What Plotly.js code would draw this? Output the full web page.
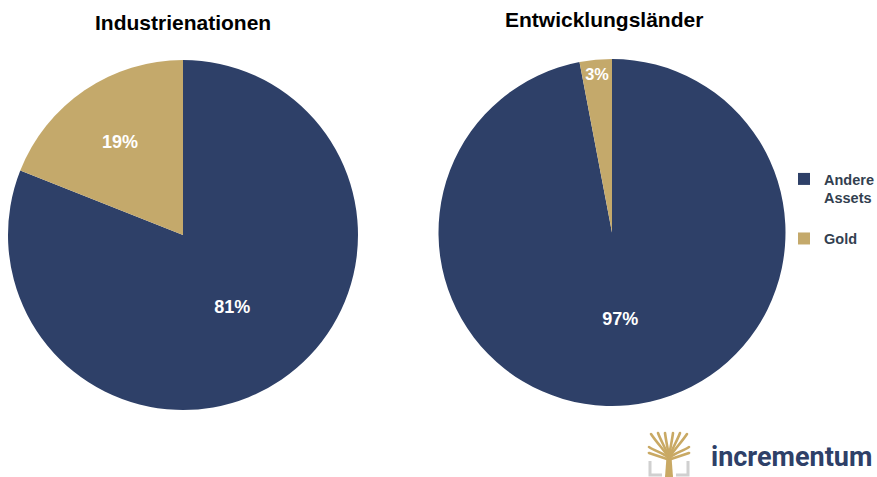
<!DOCTYPE html>
<html>
<head>
<meta charset="utf-8">
<script src="https://cdn.plot.ly/plotly-3.0.1.min.js"></script>
<style>html,body{margin:0;padding:0;background:#fff;}#chart{width:877px;height:477px;}</style>
</head>
<body>
<div id="chart"></div>
<script>
const categories = ["Andere<br>Assets<br> ", "Gold"];
const industrieValues = [81, 19];
const entwicklungValues = [97, 3];
const titles = ["Industrienationen", "Entwicklungsländer"];
const colors = ["#2E4068", "#C4A96B"];

const treeSvg = '<svg xmlns="http://www.w3.org/2000/svg" width="44" height="46" viewBox="0 0 44 46">' +
  '<path d="M3 30 V44 H15 M41 30 V44 H29" fill="none" stroke="#d0d0d0" stroke-width="3"/>' +
  '<path d="M18 46 L19.5 26 L24.5 26 L26 46 Z" fill="#C9A964"/>' +
  '<g fill="none" stroke="#C9A964" stroke-width="2.6" stroke-linecap="round">' +
  '<path d="M22 27 C16 22 8 20 2 16"/><path d="M22 27 C18 20 10 12 4 3"/>' +
  '<path d="M22 27 C19 18 14 10 11 2"/><path d="M22 27 C21 18 19 10 18 2"/>' +
  '<path d="M22 27 C23 18 25 10 26 2"/><path d="M22 27 C25 18 30 10 33 2"/>' +
  '<path d="M22 27 C26 20 34 12 40 3"/><path d="M22 27 C28 22 36 20 42 16"/>' +
  '<path d="M2 22 C8 24 14 26 20 28"/><path d="M42 22 C36 24 30 26 24 28"/>' +
  '</g></svg>';

const W = 877, H = 477;
function px(x){return x/W;}
function py(y){return 1 - y/H;}

const pieText = {family:"Arial, Liberation Sans", size:18, color:"#ffffff", weight:"bold"};

const data = [
  {type:"pie", labels:categories, values:industrieValues, sort:false, direction:"clockwise", rotation:0,
   marker:{colors:colors, line:{width:0}}, texttemplate:"%{value}%",
   textposition:"inside", insidetextorientation:"horizontal", textfont:pieText,
   domain:{x:[px(8), px(358)], y:[py(410), py(60)]}, hoverinfo:"label+percent"},
  {type:"pie", labels:categories, values:entwicklungValues, sort:false, direction:"clockwise", rotation:0,
   marker:{colors:colors, line:{width:0}}, texttemplate:"%{value}%",
   textposition:"inside", insidetextorientation:"horizontal", textfont:pieText,
   domain:{x:[px(438), px(786)], y:[py(406), py(59)]}, hoverinfo:"label+percent"}
];

const layout = {
  width:W, height:H,
  margin:{l:0, r:0, t:0, b:0, autoexpand:false},
  paper_bgcolor:"#ffffff",
  showlegend:true,
  legend:{x:px(784), y:py(163), xanchor:"left", yanchor:"top", valign:"top",
    font:{family:"Arial, Liberation Sans", size:14.5, color:"#333f50", weight:"bold"},
    bgcolor:"rgba(0,0,0,0)", itemwidth:30},
  annotations:[
    {text:titles[0], x:px(183), y:py(22), xref:"paper", yref:"paper", xanchor:"center", yanchor:"middle", showarrow:false,
     font:{family:"Arial, Liberation Sans", size:21, color:"#000000", weight:"bold"}},
    {text:titles[1], x:px(604), y:py(20), xref:"paper", yref:"paper", xanchor:"center", yanchor:"middle", showarrow:false,
     font:{family:"Arial, Liberation Sans", size:21, color:"#000000", weight:"bold"}},
    {text:"incrementum", x:px(709), y:py(457), xref:"paper", yref:"paper", xanchor:"left", yanchor:"middle", showarrow:false,
     font:{family:"Roboto, Arial", size:27, color:"#2E4068", weight:"bold"}}
  ],
  images:[{source:"data:image/svg+xml;charset=utf-8," + encodeURIComponent(treeSvg),
    xref:"paper", yref:"paper", x:px(647), y:py(431), sizex:px(44), sizey:46/H,
    xanchor:"left", yanchor:"top", sizing:"stretch", layer:"above"}]
};

Plotly.newPlot("chart", data, layout, {displayModeBar:false, staticPlot:true});
</script>
</body>
</html>
